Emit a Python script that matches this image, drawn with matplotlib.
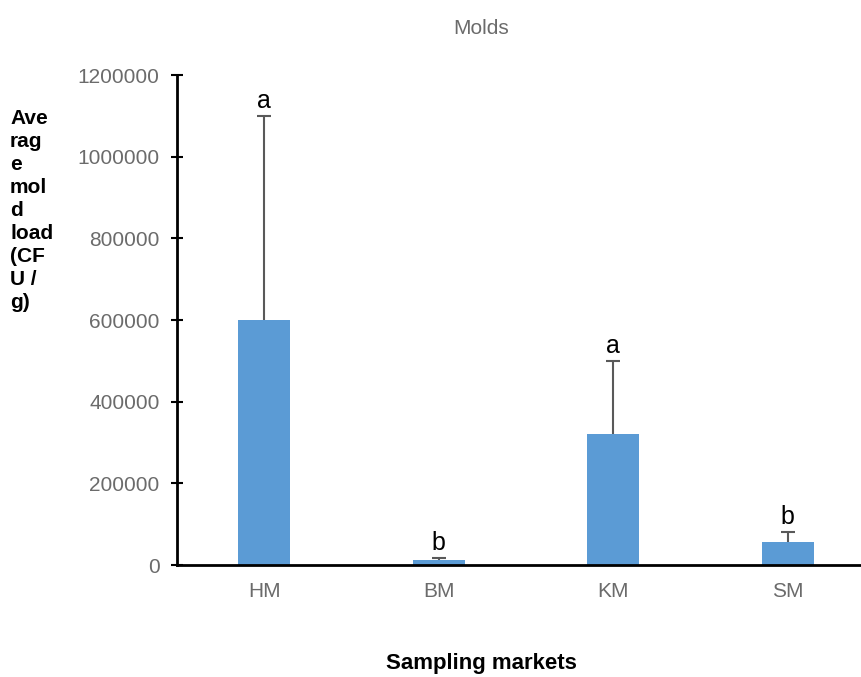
import numpy as np
import matplotlib.pyplot as plt

plt.rcParams['font.family'] = ['Liberation Sans', 'DejaVu Sans']

markets = ['HM', 'BM', 'KM', 'SM']
mean_load = [600000, 12000, 320000, 56000]
err_load = [500000, 6000, 180000, 25000]
letters = ['a', 'b', 'a', 'b']
yticks = [0, 200000, 400000, 600000, 800000, 1000000, 1200000]

grey = '#6b6b6b'

fig = plt.figure(figsize=(8.61, 6.77), dpi=100)
ax = fig.add_axes([0.2056, 0.1654, 0.8107, 0.7238])

x = np.arange(len(markets))
ax.bar(x, mean_load, width=0.30, color='#5B9BD5', zorder=2)
# upper error bars only
_, caps, _ = ax.errorbar(x, mean_load, yerr=[np.zeros(len(x)), err_load], fmt='none',
                         ecolor='#595959', elinewidth=1.5, capsize=5, capthick=1.5,
                         zorder=3)
caps[0].set_visible(False)

for xi, m, e, lab in zip(x, mean_load, err_load, letters):
    ax.annotate(lab, (xi, m + e), xytext=(0, 2), textcoords='offset points',
                ha='center', va='bottom', fontsize=18, color='black')

ax.set_xlim(-0.5, 3.5)
ax.set_ylim(0, 1200000)
ax.set_yticks(yticks)
ax.set_yticklabels([str(v) for v in yticks])
ax.set_xticks(x)
ax.set_xticklabels(markets)

ax.tick_params(axis='y', direction='inout', length=9, width=1.5, colors='black',
               labelcolor=grey, labelsize=15, pad=8)
ax.tick_params(axis='x', length=0, labelcolor=grey, labelsize=15, pad=12)

for s in ['top', 'right']:
    ax.spines[s].set_visible(False)
ax.spines['left'].set_linewidth(2)
ax.spines['bottom'].set_linewidth(2)

fig.text(481 / 861, 1 - 28 / 677, 'Molds', ha='center', va='center',
         fontsize=15, color=grey)
fig.text(481 / 861, 1 - 664 / 677, 'Sampling markets', ha='center', va='center',
         fontsize=16, fontweight='bold')
ylab = 'Ave\nrag\ne\nmol\nd\nload\n(CF\nU /\ng)'
fig.text(10 / 861, 1 - 109 / 677, ylab, ha='left', va='top',
         fontsize=15, fontweight='bold', linespacing=1.27)

fig.savefig('out.png', dpi=100)
